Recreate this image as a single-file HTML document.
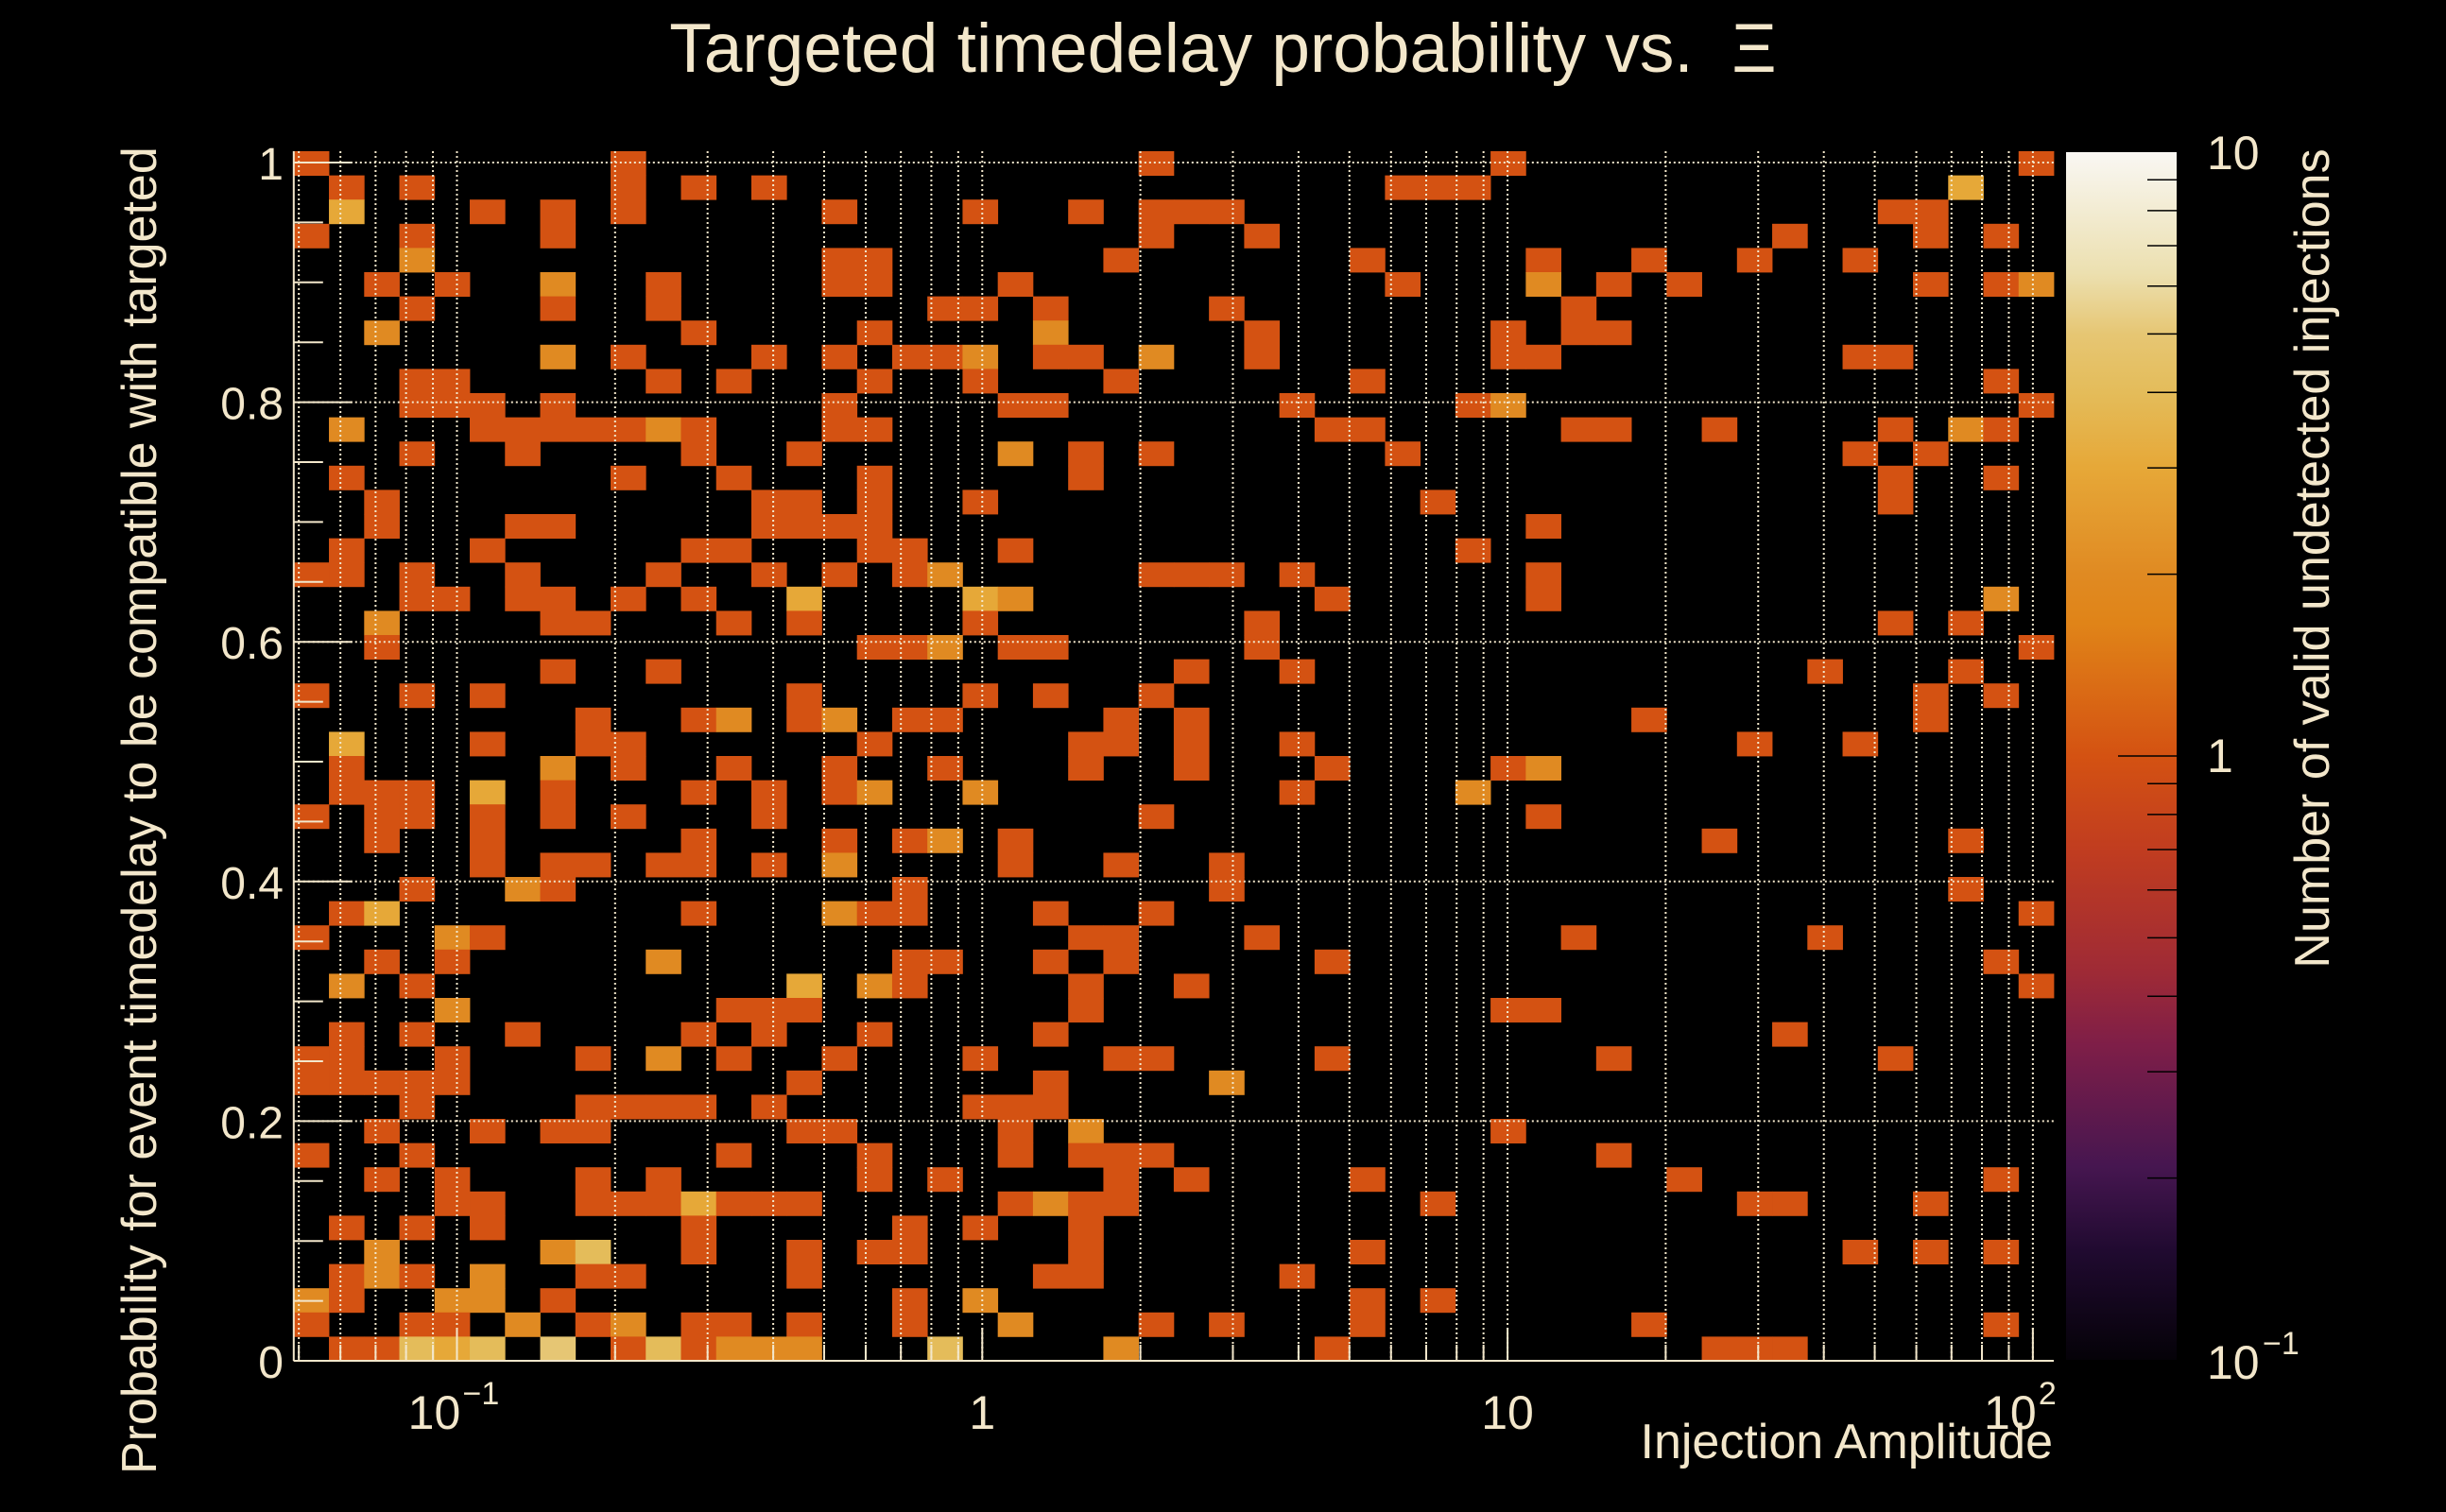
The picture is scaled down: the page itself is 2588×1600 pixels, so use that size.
<!DOCTYPE html>
<html><head><meta charset="utf-8"><title>Targeted timedelay probability</title>
<style>
html,body{margin:0;padding:0;background:#000;}
svg{display:block;}
text{font-family:"Liberation Sans",sans-serif;fill:#f3e7cb;}
</style></head>
<body>
<svg id="chart" width="2588" height="1600" viewBox="0 0 2588 1600" xmlns="http://www.w3.org/2000/svg">
<rect x="0" y="0" width="2588" height="1600" fill="#000"/>
<text x="1294" y="76" font-size="73" text-anchor="middle" xml:space="preserve">Targeted timedelay probability vs.  Ξ</text>
<g id="cells"></g>
<g id="grid"></g>
<g id="axes"></g>
<defs><linearGradient id="cbgrad" x1="0" y1="1" x2="0" y2="0"></linearGradient></defs>
<g id="colorbar"></g>
<text x="2172" y="1543" font-size="52" text-anchor="end">Injection Amplitude</text>
<text transform="translate(165,1560) rotate(-90)" font-size="52" text-anchor="start">Probability for event timedelay to be compatible with targeted</text>
<text transform="translate(2464,591) rotate(-90)" font-size="52" text-anchor="middle">Number of valid undetected injections</text>
</svg>
<script>
// Axis ranges
const xRange = [0.0489, 109.6];   // injection amplitude (log axis)
const yRange = [0, 1.00946];      // probability
const nXBins = 50;
const nYBins = 50;
const zRange = [0.1, 10];
const yTickValues = [0, 0.2, 0.4, 0.6, 0.8, 1];
const yTickLabels = ["0", "0.2", "0.4", "0.6", "0.8", "1"];
const xTickValues = [0.1, 1, 10, 100];
const xTickBase = ["10", "1", "10", "10"];
const xTickExp = ["\u22121", "", "", "2"];
// Heatmap data: for each probability row (top row first), flat pairs [amplitudeBin, count, ...]
const rowCells = [
[0,1,9,1,24,1,34,1,49,1],
[1,1,3,1,9,1,11,1,13,1,31,1,32,1,33,1,47,3],
[1,3,5,1,7,1,9,1,15,1,19,1,22,1,24,1,25,1,26,1,45,1,46,1],
[0,1,3,1,7,1,24,1,27,1,42,1,46,1,48,1],
[3,2,15,1,16,1,23,1,30,1,35,1,38,1,41,1,44,1],
[2,1,4,1,7,2,10,1,15,1,16,1,20,1,31,1,35,2,37,1,39,1,46,1,48,1,49,2],
[3,1,7,1,10,1,18,1,19,1,21,1,26,1,36,1],
[2,2,11,1,16,1,21,2,27,1,34,1,36,1,37,1],
[7,2,9,1,13,1,15,1,17,1,18,1,19,2,21,1,22,1,24,2,27,1,34,1,35,1,44,1,45,1],
[3,1,4,1,10,1,12,1,16,1,19,1,23,1,30,1,48,1],
[3,1,4,1,5,1,7,1,15,1,20,1,21,1,28,1,33,1,34,2,49,1],
[1,2,5,1,6,1,7,1,8,1,9,1,10,2,11,1,15,1,16,1,29,1,30,1,36,1,37,1,40,1,45,1,47,2,48,1],
[3,1,6,1,11,1,14,1,20,2,22,1,24,1,31,1,44,1,46,1],
[1,1,9,1,12,1,16,1,22,1,45,1,48,1],
[2,1,13,1,14,1,16,1,19,1,32,1,45,1],
[2,1,6,1,7,1,13,1,14,1,15,1,16,1,35,1],
[1,1,5,1,11,1,12,1,16,1,17,1,20,1,33,1],
[0,1,1,1,3,1,6,1,10,1,13,1,15,1,17,1,18,2,24,1,25,1,26,1,28,1,35,1],
[3,1,4,1,6,1,7,1,9,1,11,1,14,3,19,3,20,2,29,1,35,1,48,2],
[2,2,7,1,8,1,12,1,14,1,19,1,27,1,45,1,47,1],
[2,1,16,1,17,1,18,2,20,1,21,1,27,1,49,1],
[7,1,10,1,25,1,28,1,43,1,47,1],
[0,1,3,1,5,1,14,1,19,1,21,1,24,1,46,1,48,1],
[8,1,11,1,12,2,14,1,15,2,17,1,18,1,23,1,25,1,38,1,46,1],
[1,3,5,1,8,1,9,1,16,1,22,1,23,1,25,1,28,1,41,1,44,1],
[1,1,7,2,9,1,12,1,15,1,18,1,22,1,25,1,29,1,34,1,35,2],
[1,1,2,1,3,1,5,3,7,1,11,1,13,1,15,1,16,2,19,2,28,1,33,2],
[0,1,2,1,3,1,5,1,7,1,9,1,13,1,24,1,35,1],
[2,1,5,1,11,1,15,1,17,1,18,2,20,1,40,1,47,1],
[5,1,7,1,8,1,10,1,11,1,13,1,15,2,20,1,23,1,26,1],
[3,1,6,2,7,1,17,1,26,1,47,1],
[1,1,2,3,11,1,15,2,16,1,17,1,21,1,24,1,49,1],
[0,1,4,2,5,1,22,1,23,1,27,1,36,1,43,1],
[2,1,4,1,10,2,17,1,18,1,21,1,23,1,29,1,48,1],
[1,2,3,1,14,3,16,2,17,1,22,1,25,1,49,1],
[4,2,12,1,13,1,14,1,22,1,34,1,35,1],
[1,1,3,1,6,1,11,1,13,1,16,1,21,1,42,1],
[0,1,1,1,4,1,8,1,10,2,12,1,15,1,19,1,23,1,24,1,29,1,37,1,45,1],
[0,1,1,1,2,1,3,1,4,1,14,1,21,1,26,2],
[3,1,8,1,9,1,10,1,11,1,13,1,19,1,20,1,21,1],
[2,1,5,1,7,1,8,1,14,1,15,1,20,1,22,2,34,1],
[0,1,3,1,12,1,16,1,20,1,22,1,23,1,24,1,37,1],
[2,1,4,1,8,1,10,1,16,1,18,1,23,1,25,1,30,1,39,1,48,1],
[4,1,5,1,8,1,9,1,10,1,11,3,12,1,13,1,14,1,20,1,21,2,22,1,23,1,32,1,41,1,42,1,46,1],
[1,1,3,1,5,1,11,1,17,1,19,1,22,1],
[2,2,7,2,8,4,11,1,14,1,16,1,17,1,22,1,30,1,44,1,46,1,48,1],
[1,1,2,2,3,1,5,2,8,1,9,1,14,1,21,1,22,1,28,1],
[0,2,1,1,4,2,5,2,7,1,17,1,19,2,30,1,32,1],
[0,1,3,1,4,1,6,2,8,1,9,2,11,1,12,1,14,1,17,1,20,2,24,1,26,1,30,1,38,1,48,1],
[1,1,2,1,3,4,4,3,5,4,7,5,9,1,10,4,11,1,12,2,13,2,14,2,18,4,23,2,29,1,40,1,41,1,42,1]
];
// Colour stops: fraction of log(z) range -> colour
const stopFrac = [0, 0.09, 0.16, 0.26, 0.32, 0.42, 0.5, 0.61, 0.65, 0.739, 0.801, 0.849, 0.9, 1];
const stopCol  = ["#050208","#200a30","#461650","#7e1e48","#9e2a36","#c03c20","#d45212","#e08418","#e08a22","#e6a838","#e4bc5a","#e6c673","#ece0b0","#f9f7f3"];

const NS = "http://www.w3.org/2000/svg";
const PL = 310.8, PR = 2173, PT = 160, PB = 1440;
const yUnit = 1268; // px per probability unit
function xPos(v){ const a=Math.log10(xRange[0]), b=Math.log10(xRange[1]); return PL + (Math.log10(v)-a)/(b-a)*(PR-PL); }
function yPos(p){ return PB - (p - yRange[0]) * yUnit; }
function xEdge(i){ const a=Math.log10(xRange[0]), b=Math.log10(xRange[1]); return xPos(Math.pow(10, a + (b-a)*i/nXBins)); }
function yEdge(j){ return yPos(yRange[0] + (yRange[1]-yRange[0])*j/nYBins); }
function hex(c){ return [parseInt(c.slice(1,3),16),parseInt(c.slice(3,5),16),parseInt(c.slice(5,7),16)]; }
function colorFor(z){
  const f = (Math.log10(z)-Math.log10(zRange[0]))/(Math.log10(zRange[1])-Math.log10(zRange[0]));
  const ff = Math.max(0, Math.min(1, f));
  for (let i=1;i<stopFrac.length;i++){
    if (ff <= stopFrac[i]){
      const t=(ff-stopFrac[i-1])/(stopFrac[i]-stopFrac[i-1]);
      const a=hex(stopCol[i-1]), b=hex(stopCol[i]);
      return "rgb("+a.map((v,k)=>Math.round(v+(b[k]-v)*t)).join(",")+")";
    }
  }
  return stopCol[stopCol.length-1];
}
function mk(tag, attrs, parent){ const e=document.createElementNS(NS, tag); for (const k in attrs) e.setAttribute(k, attrs[k]); parent.appendChild(e); return e; }

// cells
const gCells = document.getElementById("cells");
rowCells.forEach((row, r) => {
  const j = nYBins - 1 - r;
  for (let k=0;k<row.length;k+=2){
    const i=row[k], z=row[k+1];
    const x0=xEdge(i), x1=xEdge(i+1), y0=yEdge(j+1), y1=yEdge(j);
    const rc = mk("rect", {x:x0.toFixed(2), y:y0.toFixed(2), width:(x1-x0+0.4).toFixed(2), height:(y1-y0+0.4).toFixed(2), fill:colorFor(z)}, gCells);
    
    
  }
});

// grid
const gGrid = document.getElementById("grid");
const gridStyle = {stroke:"#f3e7cb", "stroke-width":"2", "stroke-dasharray":"2 3"};
for (let d=-2; d<=2; d++){
  for (let m=1; m<=9; m++){
    const v = m*Math.pow(10,d);
    if (v < xRange[0] || v > xRange[1]) continue;
    const x = xPos(v);
    const ln = mk("line", Object.assign({x1:x, x2:x, y1:PT, y2:PB}, gridStyle), gGrid);
    
    
  }
}
yTickValues.forEach(p => {
  const y = yPos(p);
  const ln = mk("line", Object.assign({x1:PL, x2:PR, y1:y, y2:y}, gridStyle), gGrid);
  
  
});

// axes
const gAx = document.getElementById("axes");
const axStyle = {stroke:"#f3e7cb", "stroke-width":"2"};
let a1 = mk("line", Object.assign({x1:PL, x2:PR, y1:PB, y2:PB}, axStyle), gAx);


let a2 = mk("line", Object.assign({x1:PL, x2:PL, y1:PT, y2:PB}, axStyle), gAx);


for (let p=0; p<=1.0001; p+=0.05){
  const y=yPos(p); const major = Math.abs(p*5-Math.round(p*5))<1e-6;
  const t = mk("line", Object.assign({x1:PL, x2:PL+(major?62:31), y1:y, y2:y}, axStyle), gAx);
  
  
}
yTickValues.forEach((p, i) => {
  const t = mk("text", {x:300, y:yPos(p)+18, "font-size":"48", "text-anchor":"end"}, gAx);
  t.textContent = yTickLabels[i];
  
  
});
for (let d=-2; d<=2; d++){
  for (let m=1; m<=9; m++){
    const v=m*Math.pow(10,d);
    if (v < xRange[0] || v > xRange[1]) continue;
    const x=xPos(v);
    const t = mk("line", Object.assign({x1:x, x2:x, y1:PB, y2:PB-(m===1?35:17)}, axStyle), gAx);
    
    
  }
}
xTickValues.forEach((v, i) => {
  const t = mk("text", {x:xPos(v)+(xTickExp[i]?-24:0), y:1512, "font-size":"50", "text-anchor":"middle"}, gAx);
  t.textContent = xTickBase[i];
  
  
  if (xTickExp[i]){
    const s = mk("text", {x:xPos(v)+6, y:1486, "font-size":"34", "text-anchor":"start"}, gAx);
    s.textContent = xTickExp[i];
    
    
  }
});

// colorbar
const grad = document.getElementById("cbgrad");
stopFrac.forEach((f,i) => { mk("stop", {offset:f, "stop-color":stopCol[i]}, grad); });
const gCb = document.getElementById("colorbar");
const CBL=2186, CBR=2303, CBT=161, CBB=1439;
const cbr = mk("rect", {x:CBL, y:CBT, width:CBR-CBL, height:CBB-CBT, fill:"url(#cbgrad)"}, gCb);


function zPos(z){ return CBB - (Math.log10(z)-Math.log10(zRange[0]))/(Math.log10(zRange[1])-Math.log10(zRange[0]))*(CBB-CBT); }
[0.1,1].forEach(base => { for (let m=2; m<=9; m++){ const y=zPos(base*m);
  const t = mk("line", {x1:CBR-31, x2:CBR, y1:y, y2:y, stroke:"#000", "stroke-width":"1.5"}, gCb);
  
   } });
const cmt = mk("line", {x1:CBR-62, x2:CBR, y1:zPos(1), y2:zPos(1), stroke:"#000", "stroke-width":"1.5"}, gCb);


const cbLabels = [[10,"10",""],[1,"1",""],[0.1,"10","\u22121"]];
cbLabels.forEach(l => {
  const t = mk("text", {x:2335, y:zPos(l[0])+(l[0]===10?18:(l[0]===1?17:20)), "font-size":"50", "text-anchor":"start"}, gCb);
  t.textContent = l[1];
  
  
  if (l[2]){
    const s = mk("text", {x:2394, y:zPos(l[0])-6, "font-size":"34", "text-anchor":"start"}, gCb);
    s.textContent = l[2];
    
    
  }
});
</script>
</body></html>
